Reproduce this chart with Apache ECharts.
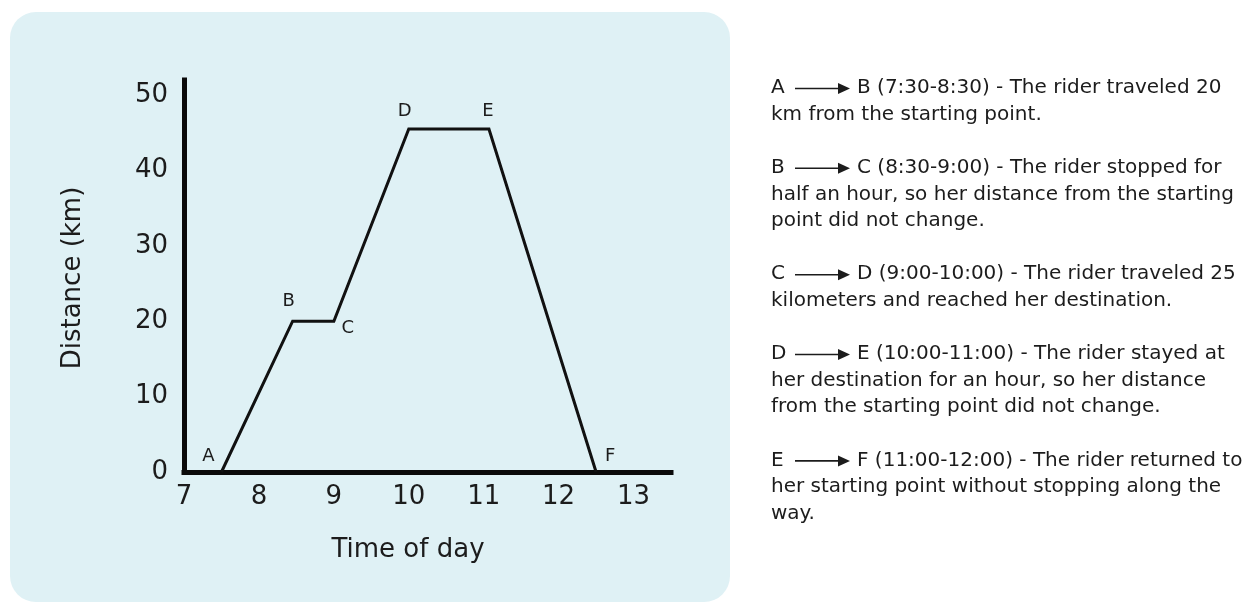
<!DOCTYPE html>
<html>
<head>
<meta charset="utf-8">
<title>Distance-time graph</title>
<script src="https://cdn.jsdelivr.net/npm/echarts@6/dist/echarts.min.js"></script>
<style>
  html, body { margin: 0; padding: 0; background: #ffffff; }
  #chart { width: 1254px; height: 604px; }
</style>
</head>
<body>
<div id="chart"></div>
<script>
// Journey points: time of day (hours) and distance from the start (km)
const pointNames = ['A', 'B', 'C', 'D', 'E', 'F'];
const times = [7.5, 8.45, 9.0, 10.0, 11.07, 12.5];
const distances = [0, 20, 20, 45.5, 45.5, 0];

// Axis ranges and ticks
const xTicks = [7, 8, 9, 10, 11, 12, 13];
const yTicks = [0, 10, 20, 30, 40, 50];
const xRange = [7, 13.5];
const yRange = [0, 52];

// Where each point's letter sits relative to the point
const letterOffsets = [[-13, -16], [-4, -20], [14, 7], [-4, -18], [-1, -18], [14, -16]];

// Notes on each leg of the trip
const notes = [
  { from: 'A', lines: ['B (7:30-8:30) - The rider traveled 20', 'km from the starting point.'] },
  { from: 'B', lines: ['C (8:30-9:00) - The rider stopped for', 'half an hour, so her distance from the starting', 'point did not change.'] },
  { from: 'C', lines: ['D (9:00-10:00) - The rider traveled 25', 'kilometers and reached her destination.'] },
  { from: 'D', lines: ['E (10:00-11:00) - The rider stayed at', 'her destination for an hour, so her distance', 'from the starting point did not change.'] },
  { from: 'E', lines: ['F (11:00-12:00) - The rider returned to', 'her starting point without stopping along the', 'way.'] }
];

const FONT = '"DejaVu Sans", Verdana, sans-serif';
const INK = '#1c1c1c';
const NOTE_FONT = '20px ' + FONT;

const chart = echarts.init(document.getElementById('chart'), null, { renderer: 'canvas' });

// Build the notes panel on the right
const noteGraphics = [];
const textLeft = 771;
const lineStart = 88;
const linePitch = 26.6;
let row = 0;
notes.forEach(function (n) {
  const y0 = lineStart + row * linePitch;
  noteGraphics.push({
    type: 'text', x: textLeft, y: y0,
    style: { text: n.from, font: NOTE_FONT, fill: INK, verticalAlign: 'middle' }
  });
  noteGraphics.push({
    type: 'line', shape: { x1: 795, y1: y0 + 0.5, x2: 842, y2: y0 + 0.5 },
    style: { stroke: INK, lineWidth: 1.6 }
  });
  noteGraphics.push({
    type: 'polygon', shape: { points: [[838, y0 - 5], [850, y0 + 0.5], [838, y0 + 6]] },
    style: { fill: INK }
  });
  n.lines.forEach(function (t, i) {
    noteGraphics.push({
      type: 'text', x: i === 0 ? 857 : textLeft, y: lineStart + (row + i) * linePitch,
      style: { text: t, font: NOTE_FONT, fill: INK, verticalAlign: 'middle' }
    });
  });
  row += n.lines.length + 1;
});

const seriesData = times.map(function (t, i) {
  return {
    value: [t, distances[i]],
    label: {
      show: true,
      formatter: pointNames[i],
      position: 'inside',
      offset: letterOffsets[i]
    }
  };
});

chart.setOption({
  animation: false,
  backgroundColor: '#ffffff',
  graphic: [
    {
      type: 'rect', z: -10, silent: true,
      shape: { x: 10, y: 12, width: 720, height: 590, r: 26 },
      style: { fill: '#dff1f5' }
    },
    {
      type: 'text', x: 73, y: 278, rotation: Math.PI / 2,
      style: { text: 'Distance (km)', font: '26px ' + FONT, fill: INK, align: 'center', verticalAlign: 'middle' }
    },
    {
      type: 'text', x: 408, y: 550,
      style: { text: 'Time of day', font: '26px ' + FONT, fill: INK, align: 'center', verticalAlign: 'middle' }
    }
  ].concat(noteGraphics),
  grid: { left: 184, top: 80, width: 487, height: 392, containLabel: false },
  xAxis: {
    type: 'value',
    min: xRange[0], max: xRange[1], interval: 1,
    axisLine: { lineStyle: { color: '#0a0a0a', width: 5, cap: 'square' } },
    axisTick: { show: false },
    splitLine: { show: false },
    axisLabel: {
      margin: 12,
      color: INK, fontSize: 26, fontFamily: FONT,
      formatter: function (v) { return xTicks.indexOf(v) >= 0 ? String(v) : ''; }
    }
  },
  yAxis: {
    type: 'value',
    min: yRange[0], max: yRange[1], interval: 10,
    axisLine: { lineStyle: { color: '#0a0a0a', width: 5, cap: 'square' } },
    axisTick: { show: false },
    splitLine: { show: false },
    axisLabel: {
      margin: 16,
      color: INK, fontSize: 26, fontFamily: FONT,
      formatter: function (v) { return yTicks.indexOf(v) >= 0 ? String(v) : ''; }
    }
  },
  series: [{
    type: 'line',
    data: seriesData,
    symbol: 'circle',
    symbolSize: 0.1,
    showSymbol: true,
    lineStyle: { color: '#111111', width: 3, join: 'miter' },
    itemStyle: { color: '#111111' },
    label: { color: INK, fontSize: 18, fontFamily: FONT },
    emphasis: { disabled: true },
    z: 3
  }]
});
</script>
</body>
</html>
